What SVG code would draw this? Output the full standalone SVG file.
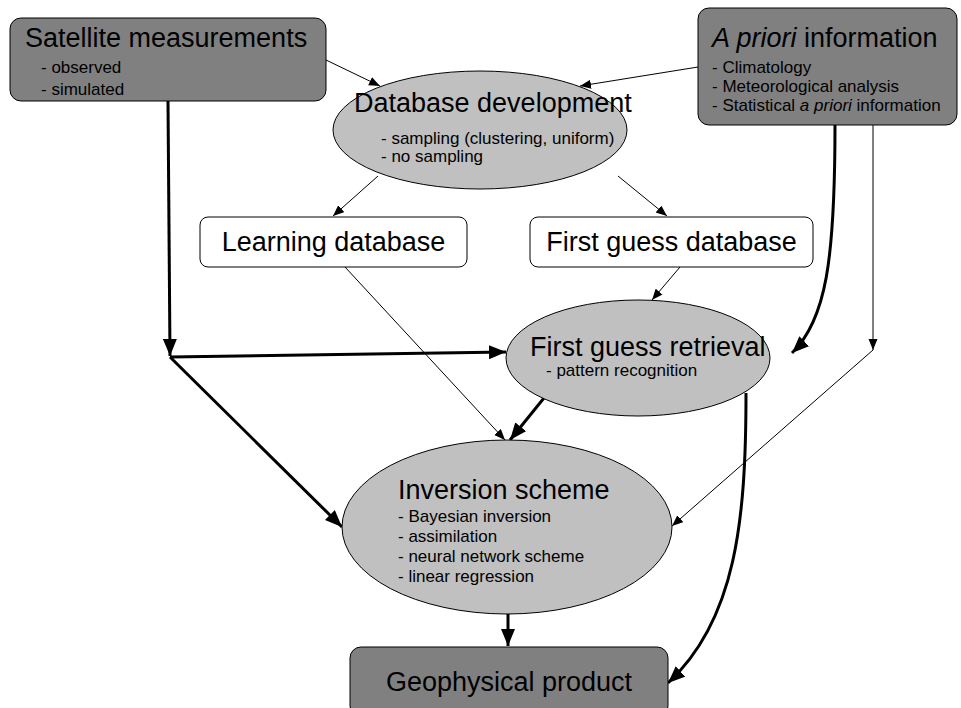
<svg xmlns="http://www.w3.org/2000/svg" width="961" height="708" viewBox="0 0 961 708">
<style>
text{font-family:"Liberation Sans",Arial,sans-serif;fill:#000}
.title{font-size:27px}
.sub{font-size:17px}
.dark{fill:#808080;stroke:#000;stroke-width:1}
.light{fill:#c0c0c0;stroke:#000;stroke-width:1}
.white{fill:#fff;stroke:#000;stroke-width:1}
.thin{fill:none;stroke:#000;stroke-width:1;marker-end:url(#ah)}
.thick{fill:none;stroke:#000;stroke-width:3;marker-end:url(#AH)}
</style>
<defs>
<marker id="ah" markerUnits="userSpaceOnUse" markerWidth="12" markerHeight="10" refX="11" refY="4.5" orient="auto">
<path d="M0,0 L11,4.5 L0,9 z" fill="#000"/>
</marker>
<marker id="AH" markerUnits="userSpaceOnUse" markerWidth="18" markerHeight="14" refX="17" refY="7" orient="auto">
<path d="M0,0 L17,7 L0,14 z" fill="#000"/>
</marker>
</defs>
<rect width="961" height="708" fill="#fff"/>

<g id="connectors">
<path class="thin" d="M326,60 L380,86"/>
<path class="thin" d="M698,67 L580,86"/>
<path class="thin" d="M378,176 L333,216"/>
<path class="thin" d="M618,176 L667,216"/>
<path class="thick" d="M168,101 L170,356"/>
<path class="thick" d="M170,357 L506,352"/>
<path class="thick" d="M170,357 L342,527"/>
<path class="thin" d="M345,267 L505,440"/>
<path class="thin" d="M680,267 L652,300"/>
<path class="thick" d="M548,393 L510,440"/>
<path class="thick" d="M835,125 C835,260 826,320 792,353"/>
<path class="thin" d="M873,125 L873,350"/>
<path class="thin" d="M873,350 L672,526"/>
<path class="thick" d="M508,613 L508,646"/>
<path class="thick" d="M746,393 C746,520 736,620 668,683"/>
</g>

<g id="satellite">
<rect class="dark" x="10" y="18" width="316" height="83" rx="11"/>
<text class="title" x="25" y="47" font-size="27.6">Satellite measurements</text>
<text class="sub" x="41" y="73" font-size="18">- observed</text>
<text class="sub" x="41" y="95" font-size="18">- simulated</text>
</g>

<g id="apriori">
<rect class="dark" x="698" y="8" width="259" height="117" rx="11"/>
<text class="title" x="712" y="47"><tspan font-style="italic">A priori</tspan> information</text>
<text class="sub" x="712" y="73">- Climatology</text>
<text class="sub" x="712" y="92">- Meteorological analysis</text>
<text class="sub" x="712" y="111">- Statistical <tspan font-style="italic">a priori</tspan> information</text>
</g>

<g id="database">
<ellipse class="light" cx="480" cy="130" rx="147" ry="59"/>
<text class="title" x="354" y="112" font-size="26">Database development</text>
<text class="sub" x="381" y="144">- sampling (clustering, uniform)</text>
<text class="sub" x="381" y="162">- no sampling</text>
</g>

<g id="learning">
<rect class="white" x="200" y="217" width="267" height="50" rx="8"/>
<text class="title" x="333.5" y="251" text-anchor="middle">Learning database</text>
</g>

<g id="firstguessdb">
<rect class="white" x="530" y="217" width="283" height="50" rx="8"/>
<text class="title" x="671.5" y="251" text-anchor="middle">First guess database</text>
</g>

<g id="retrieval">
<ellipse class="light" cx="638" cy="358" rx="132" ry="58"/>
<text class="title" x="530" y="356">First guess retrieval</text>
<text class="sub" x="546" y="376" font-size="16.5">- pattern recognition</text>
</g>

<g id="inversion">
<ellipse class="light" cx="507" cy="527" rx="165" ry="87"/>
<text class="title" x="398" y="499" font-size="28.5">Inversion scheme</text>
<text class="sub" x="398" y="522">- Bayesian inversion</text>
<text class="sub" x="398" y="542">- assimilation</text>
<text class="sub" x="398" y="562">- neural network scheme</text>
<text class="sub" x="398" y="582">- linear regression</text>
</g>

<g id="geophysical">
<rect class="dark" x="350" y="647" width="318" height="70" rx="11"/>
<text class="title" x="509" y="691" text-anchor="middle">Geophysical product</text>
</g>
</svg>
